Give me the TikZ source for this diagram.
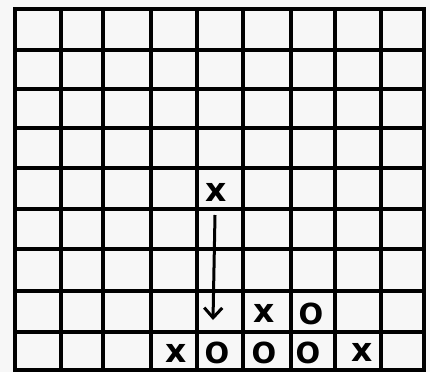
\documentclass[tikz,border=0pt]{standalone}
\usepackage{fontspec}
\setsansfont{DejaVu Sans}
\usetikzlibrary{arrows.meta}
\begin{document}
\begin{tikzpicture}[x=1pt,y=-1pt,
  gridline/.style={line width=3.2pt,black,line cap=rect},
  piece/.style={inner sep=0pt,font=\sffamily\bfseries\fontsize{29}{29}\selectfont},
  crosspiece/.style={inner sep=0pt,font=\sffamily\bfseries\fontsize{33}{33}\selectfont},
  drop/.style={line width=3pt,-{Straight Barb[length=10pt,width=18pt,line width=3pt]}}]
\fill[white!94!gray] (0,0) rectangle (430,372);
\useasboundingbox (0,0) rectangle (430,372);
% vertical lines
\foreach \x in {15,61,103,151,197,243,291,335,381,424}
  \draw[gridline] (\x,9) -- (\x,370);
% horizontal lines
\foreach \y in {9,50,89,128,168,209,249,291,332,370}
  \draw[gridline] (15,\y) -- (424,\y);
% pieces
\node[crosspiece] (x1) at (216,192) {x};
\node[crosspiece] (x2) at (264,313) {x};
\node[piece] (o1) at (311,314) {O};
\node[crosspiece] (x3) at (176,353) {x};
\node[piece] (o2) at (217,353) {O};
\node[piece] (o3) at (264,353) {O};
\node[piece] (o4) at (308,353) {O};
\node[crosspiece] (x4) at (362,352) {x};
\coordinate (start) at (215,215);
\coordinate (tip) at (213,320);
\draw[drop] (start) -- (tip);
\end{tikzpicture}
\end{document}
